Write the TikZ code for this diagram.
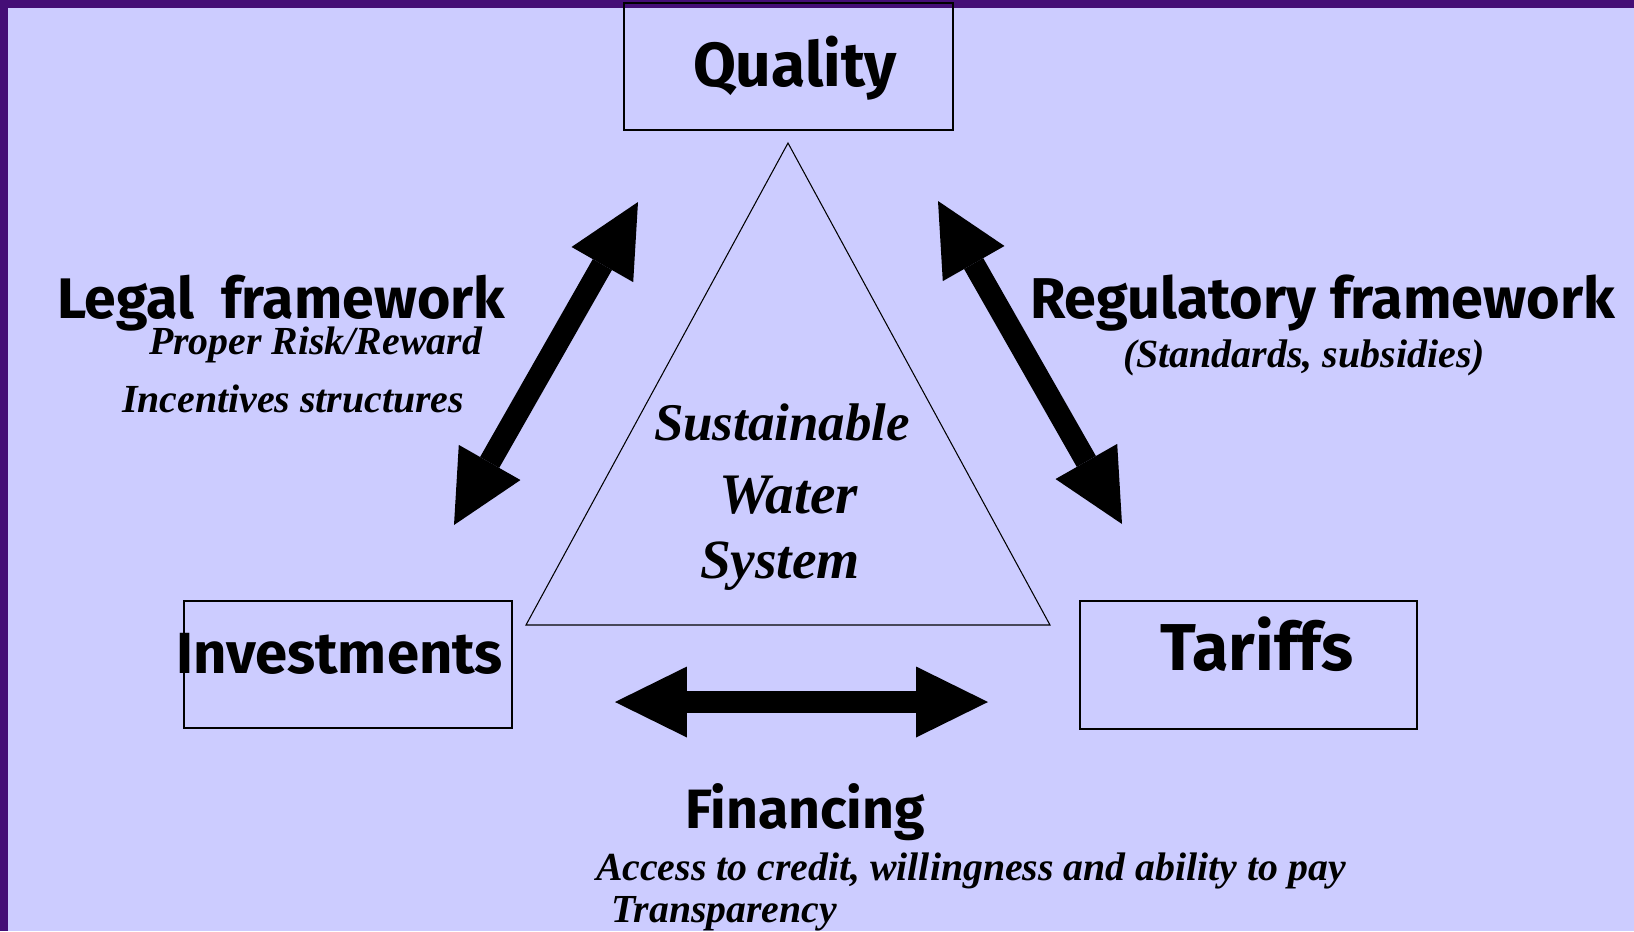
\documentclass[tikz,border=0pt]{standalone}
\usepackage{fontspec}
\usepackage{graphicx}
\usetikzlibrary{calc}
\newfontfamily\comicf{Fira Sans}
\newfontfamily\timesf{Liberation Serif}
\definecolor{lav}{RGB}{204,204,255}
\definecolor{frame}{RGB}{68,14,118}
\newcommand\headtitle[2]{\resizebox{#1}{!}{\comicf\bfseries #2}}
\newcommand\subnote[2]{\resizebox{#1}{!}{\timesf\bfseries\itshape #2}}
\newcommand\twoway[2]{%
  \coordinate (#1h) at ($(#1)!1.44cm!(#2)$);
  \coordinate (#2h) at ($(#2)!1.44cm!(#1)$);
  \draw[bigshaft] (#1h) -- (#2h);
  \fill ($(#1h)!0.71cm!90:(#1)$) -- (#1) -- ($(#1h)!0.71cm!-90:(#1)$) -- cycle;
  \fill ($(#2h)!0.71cm!90:(#2)$) -- (#2) -- ($(#2h)!0.71cm!-90:(#2)$) -- cycle;
}
\tikzset{
  box/.style={draw=black, line width=0.75pt, inner sep=0pt},
  lbl/.style={inner sep=0pt, outer sep=0pt, anchor=base west},
  bigshaft/.style={line width=0.44cm, line cap=butt},
}
\begin{document}
\begin{tikzpicture}[x=0.02cm,y=-0.02cm]
\useasboundingbox (0,0) rectangle (1634,931);
\fill[frame] (0,0) rectangle (1634,931);
\fill[lav] (8,8) rectangle (1634,931);

% boxes
\node[box, minimum width=6.58cm, minimum height=2.54cm] (quality) at (788.5,66.5) {};
\node[box, minimum width=6.56cm, minimum height=2.54cm] (invest) at (348,664.5) {};
\node[box, minimum width=6.74cm, minimum height=2.56cm] (tariffs) at (1248.5,665) {};

% triangle
\draw[line width=0.6pt] (788,143) -- (526,625) -- (1050,625) -- cycle;

% box labels
\node[lbl] (qualityt) at (693,86) {\headtitle{4.08cm}{Quality}};
\node[lbl] (investt) at (176,673) {\headtitle{6.54cm}{Investments}};
\node[lbl] (tariffst) at (1160,670) {\headtitle{3.86cm}{Tariffs}};

% side labels
\node[lbl] (legal) at (57,318) {\headtitle{8.96cm}{Legal\ \ framework}};
\node[lbl] (risk) at (149,354) {\subnote{6.66cm}{Proper Risk/Reward}};
\node[lbl] (incent) at (122,412) {\subnote{6.84cm}{Incentives structures}};
\node[lbl] (regul) at (1030,318) {\headtitle{11.70cm}{Regulatory framework}};
\node[lbl] (stand) at (1123,367) {\subnote{7.24cm}{(Standards, subsidies)}};
\node[lbl] (fin) at (685,828) {\headtitle{4.80cm}{Financing}};
\node[lbl] (access) at (596,880) {\subnote{15.00cm}{Access to credit, willingness and ability to pay}};
\node[lbl] (transp) at (611,922) {\subnote{4.52cm}{Transparency}};

% centre text
\node[lbl] (sust) at (654,440) {\subnote{5.12cm}{Sustainable}};
\node[lbl] (water) at (719,513) {\subnote{2.78cm}{Water}};
\node[lbl] (system) at (700,578) {\subnote{3.20cm}{System}};

% arrows
\coordinate (La) at (454,525);
\coordinate (Lb) at (638,202);
\coordinate (Ra) at (938,201);
\coordinate (Rb) at (1122,524);
\coordinate (Fa) at (615,702);
\coordinate (Fb) at (988,702);
\twoway{La}{Lb}
\twoway{Ra}{Rb}
\twoway{Fa}{Fb}
\end{tikzpicture}
\end{document}
